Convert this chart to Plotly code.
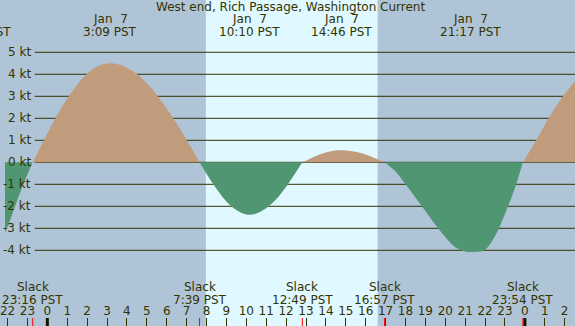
import plotly.graph_objects as go

# ---------------- data ----------------
TITLE = "West end, Rich Passage, Washington Current"

# current speed samples:
# hours relative to midnight Jan 7 (PST), knots (flood +, ebb -)
curve_hours = [-2.5, -2.0, -1.5, -1.0, -0.733,
               -0.5, 0.0, 0.5, 1.0, 1.5, 2.0, 2.5, 3.0, 3.5, 4.0, 4.5, 5.0, 5.5,
               6.0, 6.5, 7.0, 7.65,
               8.0, 8.5, 9.0, 9.5, 10.0, 10.5, 11.0, 11.5, 12.0, 12.5, 12.817,
               13.5, 14.0, 14.5, 15.0, 15.5, 16.0, 16.5, 16.95,
               17.5, 18.0, 18.5, 19.0, 19.5, 20.0, 20.5, 21.0, 21.5, 22.0, 22.5,
               23.0, 23.5, 23.9,
               24.5, 25.0, 25.5, 26.0, 26.5, 27.0]
curve_knots = [-3.85, -2.93, -1.69, -0.55, 0.0,
               0.42, 1.31, 2.15, 2.90, 3.53, 4.02, 4.35, 4.49, 4.47, 4.30, 4.01, 3.59, 3.07,
               2.45, 1.76, 1.01, 0.0,
               -0.52, -1.20, -1.78, -2.17, -2.37, -2.33, -2.09, -1.68, -1.11, -0.44, 0.0,
               0.29, 0.45, 0.54, 0.54, 0.48, 0.35, 0.17, 0.0,
               -0.42, -1.0, -1.6, -2.21, -2.84, -3.4, -3.86, -4.05, -4.07, -3.97, -3.35,
               -2.35, -1.17, 0.0,
               0.9, 1.7, 2.45, 3.1, 3.65, 4.1]

# slack events (date, time)
slack_dates = ["Jan 6", "Jan 7", "Jan 7", "Jan 7", "Jan 7"]
slack_times = ["23:16", "7:39", "12:49", "16:57", "23:54"]

# maximum current events (date, time)
max_dates = ["Jan 6", "Jan 7", "Jan 7", "Jan 7", "Jan 7"]
max_times = ["20:37", "3:09", "10:10", "14:46", "21:17"]

# daylight
sunrise = "7:58"
sunset = "16:36"

# y levels with labels
kt_levels = [5, 4, 3, 2, 1, 0, -1, -2, -3, -4]

# hour ticks shown along the bottom
hour_ticks = list(range(-2, 27))
midnights = [0, 24]

# ---------------- style ----------------
W, H = 575, 326
XMIN, XMAX = -2.128, 26.52
YMIN, YMAX = -7.441, 7.377
NIGHT = "#b0c4d8"
DAY = "#e0f8ff"
FLOOD = "#c09c7c"
EBB = "#509673"
INK = "#333300"
FONT = "DejaVu Sans"


def to_hours(date, t):
    hh, mm = t.split(":")
    day = int(date.split()[1])
    return int(hh) + int(mm) / 60.0 + 24 * (day - 7)


def fx(h):
    return (h - XMIN) / (XMAX - XMIN)


def fy(px):
    return 1 - px / H


def date_label(date):
    mon, day = date.split()
    return mon + "\u00a0" + ("\u00a0" if len(day) < 2 else "") + day


fig = go.Figure()

# split curve into segments between slack (zero) points
segments = []
cur_x, cur_y = [], []
for h, v in zip(curve_hours, curve_knots):
    cur_x.append(h)
    cur_y.append(v)
    if v == 0 and len(cur_x) > 1:
        segments.append((cur_x, cur_y))
        cur_x, cur_y = [h], [v]
if len(cur_x) > 1:
    segments.append((cur_x, cur_y))

for sx, sy in segments:
    positive = max(sy) > 0
    fig.add_trace(go.Scatter(
        x=sx, y=sy, mode="lines", line=dict(width=0, shape="spline", smoothing=1),
        fill="tozeroy", fillcolor=FLOOD if positive else EBB,
        hoverinfo="skip", showlegend=False))

shapes = []
# daylight band
shapes.append(dict(type="rect", xref="x", yref="paper",
                   x0=to_hours("Jan 7", sunrise), x1=to_hours("Jan 7", sunset),
                   y0=0, y1=1, fillcolor=DAY, line=dict(width=0), layer="below"))
# knot lines
for lv in kt_levels:
    shapes.append(dict(type="line", xref="paper", yref="y", x0=30 / W, x1=1,
                       y0=lv, y1=lv, line=dict(color=INK, width=1), layer="below"))
# midnight ticks
for m in midnights:
    shapes.append(dict(type="line", xref="x", yref="paper", x0=m, x1=m,
                       y0=0, y1=8 / H, line=dict(color="#111100", width=3)))
# slack ticks
for d, t in zip(slack_dates, slack_times):
    h = to_hours(d, t)
    shapes.append(dict(type="line", xref="x", yref="paper", x0=h, x1=h,
                       y0=0, y1=8 / H, line=dict(color="#ff0000", width=1)))

annotations = []
font = dict(family=FONT, size=12, color=INK)
annotations.append(dict(text=TITLE, xref="paper", yref="paper", x=0.5, y=fy(7),
                        xanchor="center", yanchor="middle", showarrow=False, font=font))
for d, t in zip(max_dates, max_times):
    h = to_hours(d, t)
    annotations.append(dict(text=date_label(d), xref="paper", yref="paper", x=fx(h), y=fy(19),
                            xanchor="center", yanchor="middle", showarrow=False, font=font))
    annotations.append(dict(text=t + " PST", xref="paper", yref="paper", x=fx(h), y=fy(32),
                            xanchor="center", yanchor="middle", showarrow=False, font=font))
for d, t in zip(slack_dates, slack_times):
    h = to_hours(d, t)
    annotations.append(dict(text="Slack", xref="paper", yref="paper", x=fx(h), y=fy(287),
                            xanchor="center", yanchor="middle", showarrow=False, font=font))
    annotations.append(dict(text=t + " PST", xref="paper", yref="paper", x=fx(h), y=fy(300),
                            xanchor="center", yanchor="middle", showarrow=False, font=font))
for lv in kt_levels:
    annotations.append(dict(text=f"{lv} kt", xref="paper", yref="y", x=28.5 / W, y=lv,
                            xanchor="right", yanchor="middle", showarrow=False, font=font))

fig.update_layout(
    width=W, height=H, margin=dict(l=0, r=0, t=0, b=0),
    paper_bgcolor=NIGHT, plot_bgcolor=NIGHT,
    shapes=shapes, annotations=annotations, showlegend=False,
    xaxis=dict(range=[XMIN, XMAX], showgrid=False, zeroline=False, showline=False,
               tickvals=hour_ticks, ticktext=[str(h % 24) for h in hour_ticks],
               ticks="inside", ticklen=8, tickwidth=1, tickcolor=INK,
               ticklabelposition="inside", ticklabeloverflow="allow",
               tickfont=dict(family=FONT, size=12, color=INK), fixedrange=True),
    yaxis=dict(range=[YMIN, YMAX], showgrid=False, zeroline=False, showline=False,
               showticklabels=False, ticks="", fixedrange=True),
)

fig.write_html("out.html", config={"displayModeBar": False},
               post_script="document.body.style.margin='0';document.body.style.overflow='hidden';")
